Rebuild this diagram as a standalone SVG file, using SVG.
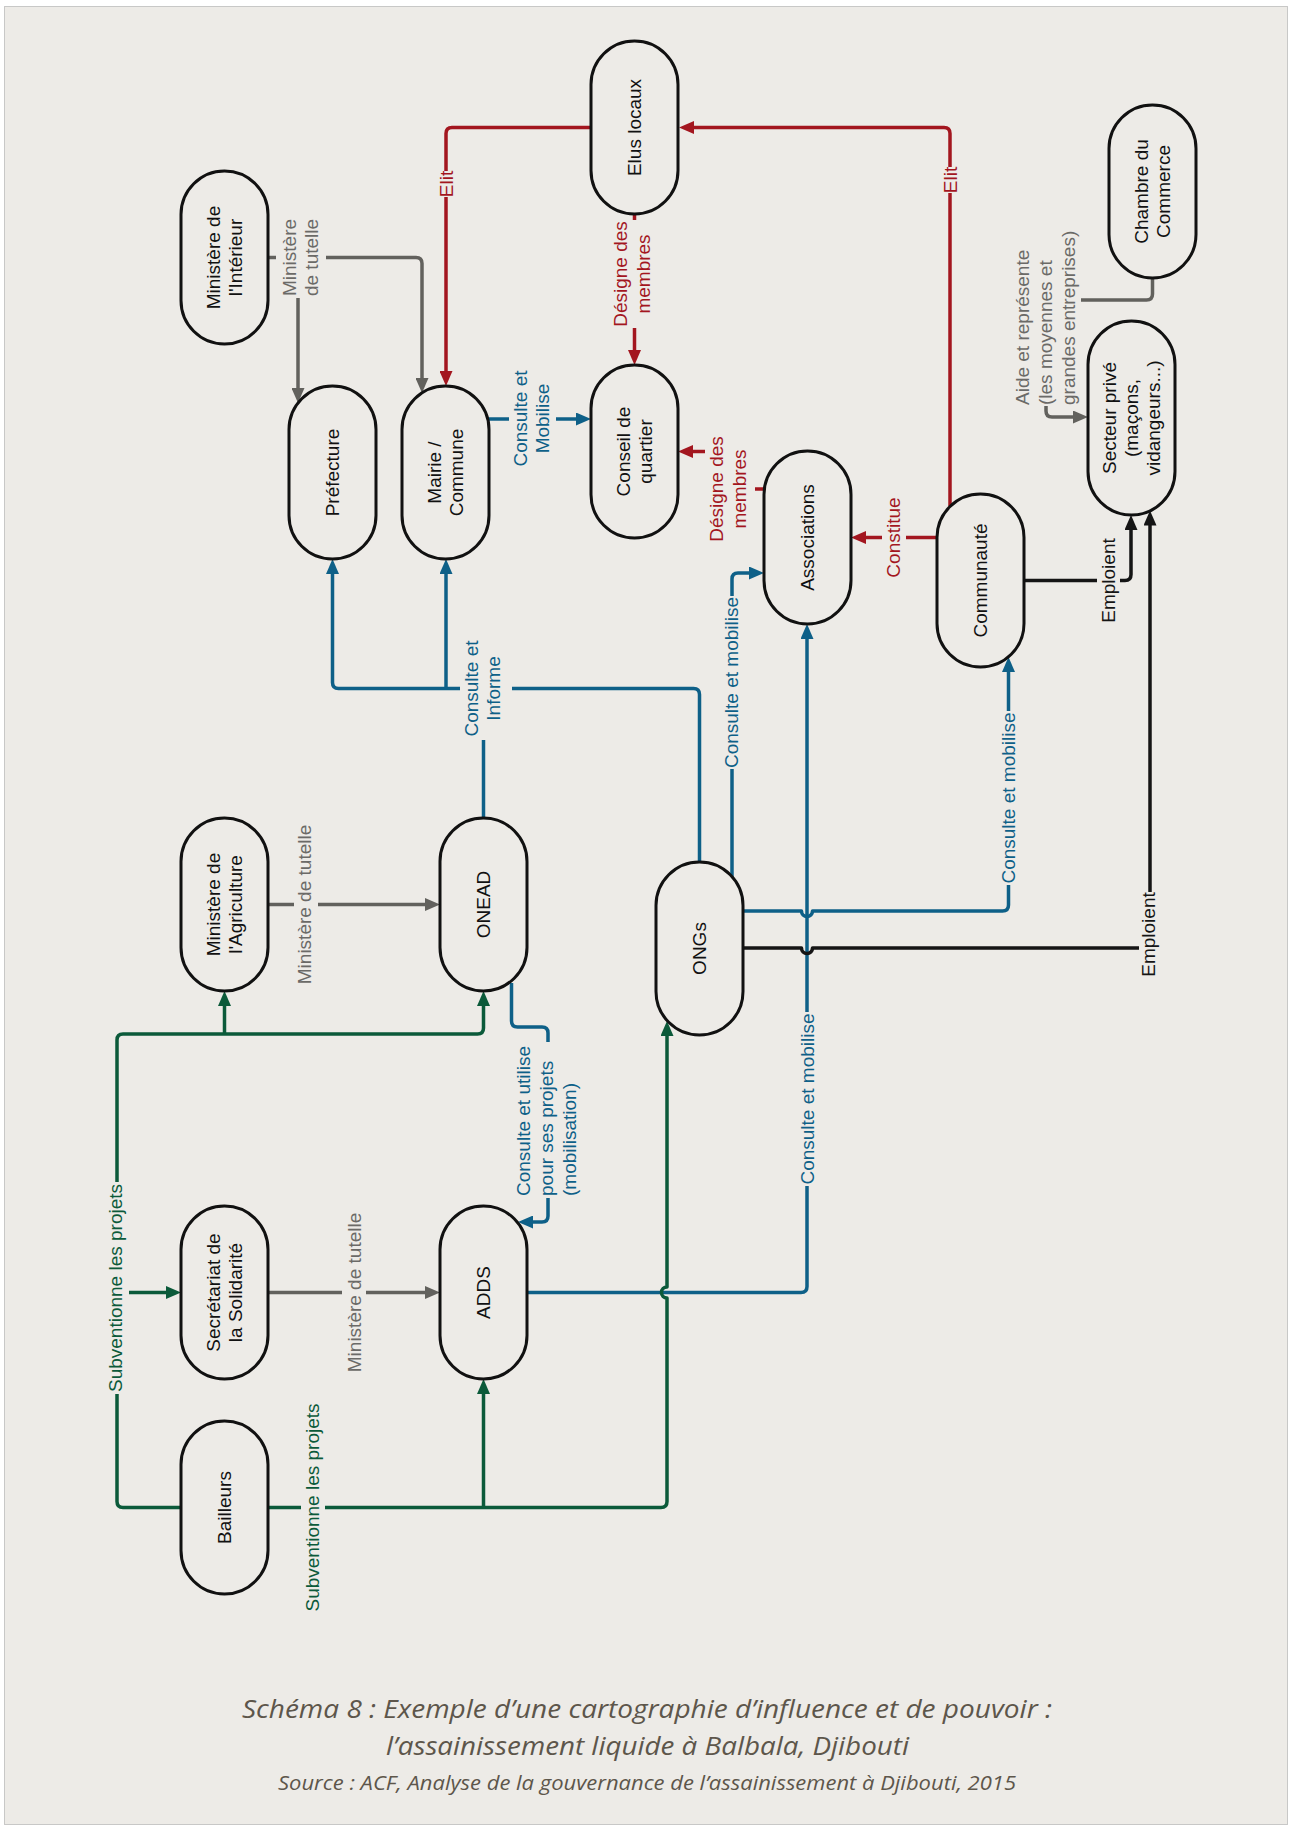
<svg xmlns="http://www.w3.org/2000/svg" width="1290" height="1829" viewBox="0 0 1290 1829">
  <defs>
    <style>
      .node { fill: #edebe7; stroke: #111; stroke-width: 3; }
      .nt { font-family: "Liberation Sans", Arial, sans-serif; font-size: 19px; fill: #111; text-anchor: middle; }
      .lbl { font-family: "Liberation Sans", Arial, sans-serif; font-size: 19px; text-anchor: middle; }
      .lbl-start { text-anchor: start; }
      .c { fill: none; stroke-width: 3.5; stroke-linejoin: round; }
      .gray { stroke: #62615d; }
      .red { stroke: #a3161f; }
      .blue { stroke: #0e6088; }
      .green { stroke: #0b5a3a; }
      .black { stroke: #151515; }
      .t-gray { fill: #6b6a67; }
      .t-red { fill: #a3161f; }
      .t-blue { fill: #0e6088; }
      .t-green { fill: #0b5a3a; }
      .t-black { fill: #151515; }
      .cap { font-family: "Liberation Sans Narrow", "Open Sans", sans-serif; font-style: italic; fill: #5d564b; text-anchor: middle; }
    </style>
    <marker id="ah-gray" markerUnits="userSpaceOnUse" markerWidth="15" markerHeight="13" refX="5" refY="6.5" orient="auto"><path d="M0,0 L15,6.5 L0,13 z" fill="#62615d"/></marker>
    <marker id="ah-red" markerUnits="userSpaceOnUse" markerWidth="15" markerHeight="13" refX="5" refY="6.5" orient="auto"><path d="M0,0 L15,6.5 L0,13 z" fill="#a3161f"/></marker>
    <marker id="ah-blue" markerUnits="userSpaceOnUse" markerWidth="15" markerHeight="13" refX="5" refY="6.5" orient="auto"><path d="M0,0 L15,6.5 L0,13 z" fill="#0e6088"/></marker>
    <marker id="ah-green" markerUnits="userSpaceOnUse" markerWidth="15" markerHeight="13" refX="5" refY="6.5" orient="auto"><path d="M0,0 L15,6.5 L0,13 z" fill="#0b5a3a"/></marker>
    <marker id="ah-black" markerUnits="userSpaceOnUse" markerWidth="15" markerHeight="13" refX="5" refY="6.5" orient="auto"><path d="M0,0 L15,6.5 L0,13 z" fill="#151515"/></marker>
  </defs>

  <!-- page background and dotted frame -->
  <rect x="0" y="0" width="1290" height="1829" fill="#ffffff"/>
  <rect x="4.5" y="6.5" width="1283" height="1818" fill="#edebe7" stroke="#9a9a9a" stroke-width="1" stroke-dasharray="1,1"/>

  <!-- connectors -->
  <g id="connectors">
    <!-- Ministère de l'Intérieur : tutelle -->
    <path class="c gray" d="M268,257.5 H276"/>
    <path class="c gray" d="M326,257.5 H416 Q422,257.5 422,263.5 V383" marker-end="url(#ah-gray)"/>
    <path class="c gray" d="M298,298 V393" marker-end="url(#ah-gray)"/>
    <!-- Ministère de l'Agriculture -> ONEAD -->
    <path class="c gray" d="M268,904.5 H294"/>
    <path class="c gray" d="M318,904.5 H430" marker-end="url(#ah-gray)"/>
    <!-- Secrétariat -> ADDS -->
    <path class="c gray" d="M268,1292.5 H342"/>
    <path class="c gray" d="M366,1292.5 H430" marker-end="url(#ah-gray)"/>
    <!-- Chambre du Commerce -> Secteur privé -->
    <path class="c gray" d="M1152.5,278 V294 Q1152.5,300 1146.5,300 H1081"/>
    <path class="c gray" d="M1046,406 V411 Q1046,417 1052,417 H1078" marker-end="url(#ah-gray)"/>

    <!-- Elus locaux -> Mairie -->
    <path class="c red" d="M591,127.5 H452 Q446,127.5 446,133.5 V171"/>
    <path class="c red" d="M446,197 V376" marker-end="url(#ah-red)"/>
    <!-- Communauté -> Elus locaux -->
    <path class="c red" d="M950,506 V193"/>
    <path class="c red" d="M950,167 V133.5 Q950,127.5 944,127.5 H689" marker-end="url(#ah-red)"/>
    <!-- Elus locaux -> Conseil de quartier -->
    <path class="c red" d="M634.5,214 V220"/>
    <path class="c red" d="M634.5,328 V355" marker-end="url(#ah-red)"/>
    <!-- Associations -> Conseil de quartier -->
    <path class="c red" d="M764,489 H755"/>
    <path class="c red" d="M705,451.5 H688" marker-end="url(#ah-red)"/>
    <!-- Communauté -> Associations -->
    <path class="c red" d="M937,537.5 H906"/>
    <path class="c red" d="M882,537.5 H861" marker-end="url(#ah-red)"/>

    <!-- Mairie -> Conseil de quartier -->
    <path class="c blue" d="M488,419 H509"/>
    <path class="c blue" d="M556,419 H581" marker-end="url(#ah-blue)"/>
    <!-- ONEAD / ONGs -> Préfecture, Mairie -->
    <path class="c blue" d="M483.5,818 V740"/>
    <path class="c blue" d="M460,688.5 H338.5 Q332.5,688.5 332.5,682.5 V569" marker-end="url(#ah-blue)"/>
    <path class="c blue" d="M446,688.5 V569" marker-end="url(#ah-blue)"/>
    <path class="c blue" d="M512,688.5 H693.5 Q699.5,688.5 699.5,694.5 V862"/>
    <!-- ONGs -> Associations -->
    <path class="c blue" d="M732,877 V769"/>
    <path class="c blue" d="M732,596 V579 Q732,573 738,573 H754" marker-end="url(#ah-blue)"/>
    <!-- ADDS -> Associations -->
    <path class="c blue" d="M527,1292.5 H801 Q807,1292.5 807,1286.5 V1186"/>
    <path class="c blue" d="M807,1012 V634" marker-end="url(#ah-blue)"/>
    <!-- ONGs -> Communauté -->
    <path class="c blue" d="M743,911 H801.5 A5.5,5.5 0 0 0 812.5,911 H1002.5 Q1008.5,911 1008.5,905 V885"/>
    <path class="c blue" d="M1008.5,711 V667" marker-end="url(#ah-blue)"/>
    <!-- ONEAD -> ADDS -->
    <path class="c blue" d="M511.5,983 V1021 Q511.5,1027 517.5,1027 H542 Q548,1027 548,1033 V1042"/>
    <path class="c blue" d="M548,1198 V1216 Q548,1222 542,1222 H528" marker-end="url(#ah-blue)"/>

    <!-- Bailleurs -> Secrétariat, Min. Agriculture, ONEAD -->
    <path class="c green" d="M181,1507.5 H123 Q117,1507.5 117,1501.5 V1394"/>
    <path class="c green" d="M117,1182 V1040 Q117,1034 123,1034 H477.5 Q483.5,1034 483.5,1028 V1001" marker-end="url(#ah-green)"/>
    <path class="c green" d="M224.5,1034 V1001" marker-end="url(#ah-green)"/>
    <path class="c green" d="M129,1292.5 H171" marker-end="url(#ah-green)"/>
    <!-- Bailleurs -> ADDS, ONGs -->
    <path class="c green" d="M268,1507.5 H301"/>
    <path class="c green" d="M325,1507.5 H661 Q667,1507.5 667,1501.5 V1298 A5.5,5.5 0 0 1 667,1287 V1031" marker-end="url(#ah-green)"/>
    <path class="c green" d="M483.5,1507.5 V1389" marker-end="url(#ah-green)"/>

    <!-- ONGs -> Secteur privé -->
    <path class="c black" d="M743,948 H801.5 A5.5,5.5 0 0 0 812.5,948 H1139"/>
    <path class="c black" d="M1150,892 V520.5" marker-end="url(#ah-black)"/>
    <!-- Communauté -> Secteur privé -->
    <path class="c black" d="M1023.5,580.5 H1097"/>
    <path class="c black" d="M1120,580.5 H1125 Q1131,580.5 1131,574.5 V525" marker-end="url(#ah-black)"/>

    <!-- connector labels -->
    <text class="lbl t-gray" transform="translate(300,257.5) rotate(-90)"><tspan x="0" y="-4.4">Ministère</tspan><tspan x="0" y="17.6">de tutelle</tspan></text>
    <text class="lbl t-gray" transform="translate(304,904.5) rotate(-90)" y="6.6">Ministère de tutelle</text>
    <text class="lbl t-gray" transform="translate(354,1292.5) rotate(-90)" y="6.6">Ministère de tutelle</text>
    <text class="lbl lbl-start t-gray" transform="translate(1045,405) rotate(-90)"><tspan x="0" y="-16.4">Aide et représente</tspan><tspan x="0" y="6.6">(les moyennes et</tspan><tspan x="0" y="29.6">grandes entreprises)</tspan></text>

    <text class="lbl t-red" transform="translate(446,184) rotate(-90)" y="6.6">Elit</text>
    <text class="lbl t-red" transform="translate(950,180) rotate(-90)" y="6.6">Elit</text>
    <text class="lbl t-red" transform="translate(632,274) rotate(-90)"><tspan x="0" y="-4.9">Désigne des</tspan><tspan x="0" y="18.1">membres</tspan></text>
    <text class="lbl t-red" transform="translate(728,489) rotate(-90)"><tspan x="0" y="-4.9">Désigne des</tspan><tspan x="0" y="18.1">membres</tspan></text>
    <text class="lbl t-red" transform="translate(893,537.5) rotate(-90)" y="6.6">Constitue</text>

    <text class="lbl t-blue" transform="translate(531,418.5) rotate(-90)"><tspan x="0" y="-4.4">Consulte et</tspan><tspan x="0" y="17.6">Mobilise</tspan></text>
    <text class="lbl t-blue" transform="translate(482.5,688.5) rotate(-90)"><tspan x="0" y="-4.4">Consulte et</tspan><tspan x="0" y="17.6">Informe</tspan></text>
    <text class="lbl t-blue" transform="translate(731,682.5) rotate(-90)" y="6.6">Consulte et mobilise</text>
    <text class="lbl t-blue" transform="translate(807,1099) rotate(-90)" y="6.6">Consulte et mobilise</text>
    <text class="lbl t-blue" transform="translate(1008,798) rotate(-90)" y="6.6">Consulte et mobilise</text>
    <text class="lbl lbl-start t-blue" transform="translate(546,1196) rotate(-90)"><tspan x="0" y="-16.4">Consulte et utilise</tspan><tspan x="0" y="6.6">pour ses projets</tspan><tspan x="0" y="29.6">(mobilisation)</tspan></text>

    <text class="lbl t-green" transform="translate(115,1288) rotate(-90)" y="6.6">Subventionne les projets</text>
    <text class="lbl t-green" transform="translate(312.5,1507.5) rotate(-90)" y="6.6">Subventionne les projets</text>

    <text class="lbl t-black" transform="translate(1148.5,934.5) rotate(-90)" y="6.6">Emploient</text>
    <text class="lbl t-black" transform="translate(1108,580.5) rotate(-90)" y="6.6">Emploient</text>
  </g>

  <!-- nodes -->
  <g id="n-ministere-interieur">
    <rect class="node" x="181" y="171" width="87" height="173" rx="43.5"/>
    <text class="nt" transform="translate(224.5,257.5) rotate(-90)"><tspan x="0" y="-4.4">Ministère de</tspan><tspan x="0" y="17.6">l'Intérieur</tspan></text>
  </g>
  <g id="n-prefecture">
    <rect class="node" x="289" y="386" width="87" height="173" rx="43.5"/>
    <text class="nt" transform="translate(332.5,472.5) rotate(-90)" y="6.6">Préfecture</text>
  </g>
  <g id="n-mairie">
    <rect class="node" x="402" y="386" width="87" height="173" rx="43.5"/>
    <text class="nt" transform="translate(445.5,472.5) rotate(-90)"><tspan x="0" y="-4.4">Mairie /</tspan><tspan x="0" y="17.6">Commune</tspan></text>
  </g>
  <g id="n-elus-locaux">
    <rect class="node" x="591" y="41" width="87" height="173" rx="43.5"/>
    <text class="nt" transform="translate(634.5,127.5) rotate(-90)" y="6.6">Elus locaux</text>
  </g>
  <g id="n-conseil-quartier">
    <rect class="node" x="591" y="365" width="87" height="173" rx="43.5"/>
    <text class="nt" transform="translate(634.5,451.5) rotate(-90)"><tspan x="0" y="-4.4">Conseil de</tspan><tspan x="0" y="17.6">quartier</tspan></text>
  </g>
  <g id="n-associations">
    <rect class="node" x="764" y="451" width="87" height="173" rx="43.5"/>
    <text class="nt" transform="translate(807.5,537.5) rotate(-90)" y="6.6">Associations</text>
  </g>
  <g id="n-communaute">
    <rect class="node" x="937" y="494" width="87" height="173" rx="43.5"/>
    <text class="nt" transform="translate(980.5,580.5) rotate(-90)" y="6.6">Communauté</text>
  </g>
  <g id="n-chambre-commerce">
    <rect class="node" x="1109" y="105" width="87" height="173" rx="43.5"/>
    <text class="nt" transform="translate(1152.5,191.5) rotate(-90)"><tspan x="0" y="-4.4">Chambre du</tspan><tspan x="0" y="17.6">Commerce</tspan></text>
  </g>
  <g id="n-secteur-prive">
    <rect class="node" x="1088" y="321" width="87" height="194" rx="43.5"/>
    <text class="nt" transform="translate(1131.5,418) rotate(-90)"><tspan x="0" y="-15.4">Secteur privé</tspan><tspan x="0" y="6.6">(maçons,</tspan><tspan x="0" y="28.6">vidangeurs...)</tspan></text>
  </g>
  <g id="n-ministere-agriculture">
    <rect class="node" x="181" y="818" width="87" height="173" rx="43.5"/>
    <text class="nt" transform="translate(224.5,904.5) rotate(-90)"><tspan x="0" y="-4.4">Ministère de</tspan><tspan x="0" y="17.6">l'Agriculture</tspan></text>
  </g>
  <g id="n-onead">
    <rect class="node" x="440" y="818" width="87" height="173" rx="43.5"/>
    <text class="nt" transform="translate(483.5,904.5) rotate(-90)" y="6.6">ONEAD</text>
  </g>
  <g id="n-ongs">
    <rect class="node" x="656" y="862" width="87" height="173" rx="43.5"/>
    <text class="nt" transform="translate(699.5,948.5) rotate(-90)" y="6.6">ONGs</text>
  </g>
  <g id="n-secretariat">
    <rect class="node" x="181" y="1206" width="87" height="173" rx="43.5"/>
    <text class="nt" transform="translate(224.5,1292.5) rotate(-90)"><tspan x="0" y="-4.4">Secrétariat de</tspan><tspan x="0" y="17.6">la Solidarité</tspan></text>
  </g>
  <g id="n-adds">
    <rect class="node" x="440" y="1206" width="87" height="173" rx="43.5"/>
    <text class="nt" transform="translate(483.5,1292.5) rotate(-90)" y="6.6">ADDS</text>
  </g>
  <g id="n-bailleurs">
    <rect class="node" x="181" y="1421" width="87" height="173" rx="43.5"/>
    <text class="nt" transform="translate(224.5,1507.5) rotate(-90)" y="6.6">Bailleurs</text>
  </g>

  <!-- caption -->
  <g id="caption">
    <text class="cap" x="647" y="1718" font-size="25" textLength="810" lengthAdjust="spacingAndGlyphs">Schéma 8 : Exemple d’une cartographie d’influence et de pouvoir :</text>
    <text class="cap" x="647.5" y="1755" font-size="25" textLength="523" lengthAdjust="spacingAndGlyphs">l’assainissement liquide à Balbala, Djibouti</text>
    <text class="cap" x="647" y="1790" font-size="20" textLength="738" lengthAdjust="spacingAndGlyphs">Source : ACF, Analyse de la gouvernance de l’assainissement à Djibouti, 2015</text>
  </g>
</svg>
